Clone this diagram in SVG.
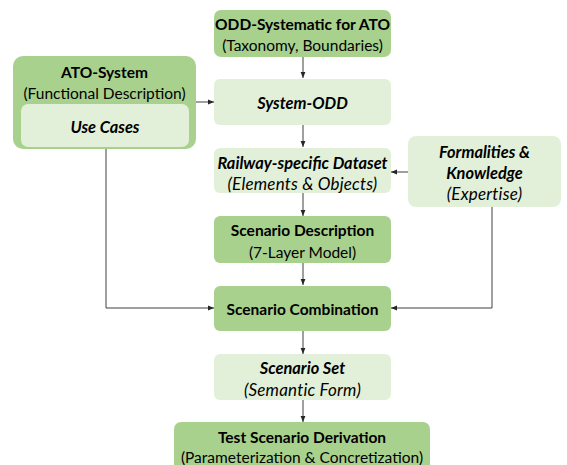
<svg xmlns="http://www.w3.org/2000/svg" width="567" height="465" viewBox="0 0 567 465">
  <defs>
    <marker id="arrow" viewBox="0 0 10 10" refX="10" refY="5" markerWidth="6" markerHeight="6" orient="auto" markerUnits="userSpaceOnUse">
      <path d="M0,1 L10,5 L0,9 Z" fill="#262626"/>
    </marker>
    <style>
      .dark { fill: #a9d18e; }
      .light { fill: #e2f0d9; }
      text { font-family: Lato, "Liberation Sans", sans-serif; font-size: 15.5px; fill: #000; text-anchor: middle; dominant-baseline: central; }
      .b { font-weight: bold; }
      .i { font-style: italic; font-size: 17px; letter-spacing: 0.2px; }
      .b.i { font-size: 16.4px; letter-spacing: 0; }
      .conn { fill: none; stroke: #404040; stroke-width: 1; }
    </style>
  </defs>
  <rect width="567" height="465" fill="#ffffff"/>

  <!-- connectors -->
  <g id="connectors">
    <line class="conn" x1="303" y1="57" x2="303" y2="78" marker-end="url(#arrow)"/>
    <line class="conn" x1="196" y1="102" x2="214" y2="102" marker-end="url(#arrow)"/>
    <line class="conn" x1="303" y1="124" x2="303" y2="147" marker-end="url(#arrow)"/>
    <line class="conn" x1="408" y1="172" x2="391" y2="172" marker-end="url(#arrow)"/>
    <line class="conn" x1="303" y1="193" x2="303" y2="216" marker-end="url(#arrow)"/>
    <line class="conn" x1="303" y1="262" x2="303" y2="285" marker-end="url(#arrow)"/>
    <polyline class="conn" points="106,147 106,308 214,308" marker-end="url(#arrow)"/>
    <polyline class="conn" points="492,207 492,308 391,308" marker-end="url(#arrow)"/>
    <line class="conn" x1="303" y1="331" x2="303" y2="354" marker-end="url(#arrow)"/>
    <line class="conn" x1="303" y1="400" x2="303" y2="422" marker-end="url(#arrow)"/>
  </g>

  <g id="odd-systematic">
    <rect class="dark" x="214" y="10" width="177" height="47" rx="7"/>
    <text class="b" x="302.5" y="24">ODD-Systematic for ATO</text>
    <text x="302.5" y="45">(Taxonomy, Boundaries)</text>
  </g>

  <g id="ato-system">
    <rect class="dark" x="13" y="56" width="183" height="93" rx="10"/>
    <text class="b" x="104.5" y="72">ATO-System</text>
    <text x="104.5" y="93">(Functional Description)</text>
    <g id="use-cases">
      <rect class="light" x="21" y="104" width="168" height="43" rx="7"/>
      <text class="b i" x="105" y="126">Use Cases</text>
    </g>
  </g>

  <g id="system-odd">
    <rect class="light" x="214" y="79" width="177" height="46" rx="6"/>
    <text class="b i" x="302.5" y="102">System-ODD</text>
  </g>

  <g id="railway-dataset">
    <rect class="light" x="214" y="148" width="177" height="45" rx="6"/>
    <text class="b i" x="302.5" y="162">Railway-specific Dataset</text>
    <text class="i" x="302.5" y="183">(Elements &amp; Objects)</text>
  </g>

  <g id="formalities">
    <rect class="light" x="408" y="136" width="153" height="71" rx="8"/>
    <text class="b i" x="484.5" y="151">Formalities &amp;</text>
    <text class="b i" x="484.5" y="172">Knowledge</text>
    <text class="i" x="484.5" y="193">(Expertise)</text>
  </g>

  <g id="scenario-description">
    <rect class="dark" x="214" y="216" width="177" height="47" rx="6"/>
    <text class="b" x="302.5" y="230">Scenario Description</text>
    <text x="302.5" y="252">(7-Layer Model)</text>
  </g>

  <g id="scenario-combination">
    <rect class="dark" x="214" y="286" width="177" height="45" rx="6"/>
    <text class="b" x="302.5" y="308.5">Scenario Combination</text>
  </g>

  <g id="scenario-set">
    <rect class="light" x="214" y="354" width="177" height="46" rx="6"/>
    <text class="b i" x="302.5" y="367">Scenario Set</text>
    <text class="i" x="302.5" y="389">(Semantic Form)</text>
  </g>

  <g id="test-derivation">
    <rect class="dark" x="174" y="422" width="256" height="50" rx="7"/>
    <text class="b" x="302" y="437">Test Scenario Derivation</text>
    <text x="302" y="457">(Parameterization &amp; Concretization)</text>
  </g>
</svg>
